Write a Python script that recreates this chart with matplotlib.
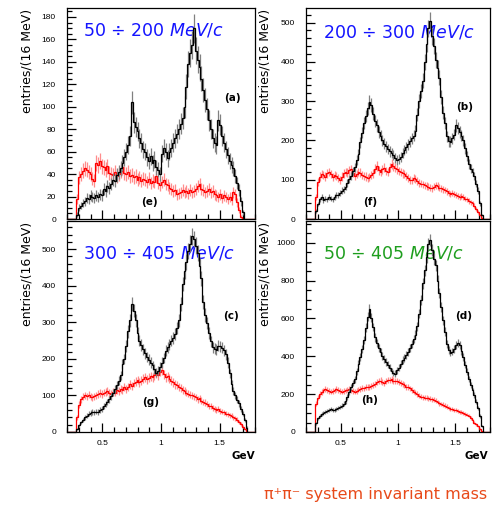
import numpy as np
import matplotlib
matplotlib.use("Agg")
import matplotlib.pyplot as plt
from matplotlib.ticker import MultipleLocator, FormatStrFormatter

plt.rcParams['font.family'] = ['DejaVu Sans']
plt.rcParams['mathtext.fontset'] = 'dejavusans'

# ---- data: pi+pi- invariant mass, 16 MeV bins starting at 0.280 GeV ----
BIN_START = 0.280
BIN_WIDTH = 0.016
XMIN, XMAX = 0.2, 1.8

black_a = [4, 10, 12, 14, 16, 19, 18, 21, 20, 19, 21, 20, 22, 21, 27, 25, 29, 28, 31, 35,
           34, 39, 42, 45, 50, 55, 60, 66, 74, 104, 86, 82, 78, 72, 68, 62, 60, 55, 52, 56,
           50, 53, 46, 44, 40, 58, 63, 60, 54, 60, 63, 68, 72, 76, 80, 85, 90, 100, 118, 138,
           148, 155, 170, 150, 142, 135, 125, 115, 106, 98, 88, 80, 72, 68, 66, 88, 84, 74, 68, 62,
           57, 52, 48, 45, 38, 32, 26, 16, 6, 0, 0, 0]
red_a = [18, 37, 40, 43, 45, 44, 42, 40, 36, 34, 50, 48, 52, 47, 46, 44, 47, 41, 40, 39,
         42, 38, 40, 43, 46, 41, 40, 42, 38, 39, 37, 38, 35, 37, 34, 36, 35, 33, 36, 32,
         34, 33, 38, 32, 30, 33, 35, 31, 30, 28, 27, 25, 26, 22, 23, 24, 26, 24, 25, 23,
         26, 24, 25, 27, 29, 31, 27, 26, 24, 25, 27, 24, 25, 22, 21, 20, 22, 19, 21, 20,
         18, 20, 17, 24, 22, 15, 8, 2, 0, 0, 0, 0]
black_b = [20, 38, 50, 55, 48, 52, 50, 56, 52, 50, 55, 60, 62, 66, 72, 76, 82, 92, 102, 110,
           122, 132, 150, 165, 195, 220, 245, 262, 282, 298, 290, 268, 250, 238, 222, 212, 200, 192, 185, 178,
           172, 168, 162, 156, 150, 152, 158, 168, 175, 182, 190, 198, 205, 212, 225, 265, 300, 325, 352, 400,
           445, 485, 505, 465, 440, 405, 385, 360, 310, 270, 245, 210, 198, 196, 205, 215, 238, 232, 222, 212,
           200, 180, 160, 140, 128, 120, 110, 90, 72, 40, 10, 0]
red_b = [55, 95, 108, 115, 112, 108, 116, 120, 114, 106, 112, 110, 104, 100, 108, 116, 120, 118, 124, 126,
         118, 110, 114, 120, 118, 112, 110, 108, 104, 106, 112, 116, 128, 135, 124, 120, 126, 130, 122, 120,
         132, 140, 134, 130, 126, 122, 120, 116, 114, 110, 104, 100, 98, 104, 102, 96, 92, 90, 88, 86,
         84, 82, 80, 78, 82, 86, 84, 80, 78, 76, 74, 70, 66, 64, 66, 64, 60, 58, 55, 58,
         56, 52, 50, 46, 42, 40, 34, 26, 18, 10, 3, 0]
black_c = [8, 18, 26, 33, 40, 45, 50, 52, 55, 54, 56, 55, 60, 64, 70, 76, 82, 90, 98, 108,
           118, 128, 140, 155, 185, 200, 235, 275, 305, 350, 332, 305, 270, 250, 238, 226, 215, 205, 198, 190,
           182, 172, 162, 168, 178, 190, 202, 222, 232, 240, 250, 258, 268, 285, 305, 350, 405, 440, 465, 495,
           515, 535, 528, 510, 490, 455, 420, 355, 320, 298, 270, 248, 232, 228, 225, 236, 234, 230, 224, 212,
           190, 160, 130, 112, 100, 88, 78, 64, 50, 32, 12, 0]
red_c = [40, 75, 90, 96, 100, 98, 102, 96, 95, 98, 100, 104, 106, 104, 108, 110, 112, 106, 104, 110,
         108, 114, 112, 118, 116, 122, 118, 124, 130, 126, 134, 138, 142, 136, 140, 146, 150, 144, 148, 152,
         150, 156, 160, 155, 165, 170, 158, 150, 152, 146, 140, 136, 130, 128, 122, 120, 116, 112, 108, 105,
         102, 100, 98, 95, 90, 92, 86, 82, 80, 76, 72, 70, 66, 64, 60, 62, 58, 56, 54, 50,
         48, 46, 44, 40, 37, 34, 28, 22, 15, 8, 2, 0]
black_d = [45, 72, 85, 95, 100, 104, 110, 118, 120, 116, 118, 122, 126, 132, 140, 150, 162, 185, 212, 240,
           260, 278, 320, 360, 395, 440, 485, 550, 610, 650, 605, 555, 500, 470, 445, 422, 402, 385, 370, 355,
           340, 322, 312, 308, 325, 340, 360, 380, 392, 408, 422, 445, 465, 490, 515, 560, 625, 700, 785, 855,
           925, 995, 1015, 960, 915, 880, 800, 735, 660, 590, 530, 465, 435, 420, 425, 440, 462, 472, 462, 430,
           395, 355, 318, 280, 250, 220, 195, 160, 125, 85, 30, 0]
red_d = [150, 180, 200, 212, 220, 226, 222, 218, 214, 216, 220, 226, 222, 218, 214, 216, 220, 224, 226, 222,
         218, 214, 218, 224, 228, 232, 230, 236, 240, 238, 244, 246, 256, 262, 268, 272, 264, 260, 270, 274,
         276, 278, 272, 270, 268, 264, 258, 252, 246, 240, 236, 230, 222, 214, 208, 200, 192, 186, 184, 182,
         180, 178, 176, 172, 170, 166, 158, 152, 148, 144, 140, 134, 126, 122, 120, 116, 114, 110, 108, 104,
         100, 96, 92, 86, 74, 62, 50, 40, 30, 16, 4, 0]

titles = ["50 ÷ 200", "200 ÷ 300", "300 ÷ 405", "50 ÷ 405"]
title_colors = ["#1414ff", "#1414ff", "#1414ff", "#1e9e1e"]
black_labels = ["(a)", "(b)", "(c)", "(d)"]
red_labels = ["(e)", "(f)", "(g)", "(h)"]
y_limits = [188, 537, 577, 1115]
y_major = [20, 100, 100, 200]
y_minor = [5, 20, 20, 50]

panels = [
    dict(black=black_a, red=red_a, rect=[67/495, 1-219/509, 188/495, 211/509],
         title_xy=(0.085, 0.891), bl_xy=(0.878, 0.573), rl_xy=(0.44, 0.08), ylab_x=-0.18, xlabels=False),
    dict(black=black_b, red=red_b, rect=[306/495, 1-219/509, 184/495, 211/509],
         title_xy=(0.092, 0.886), bl_xy=(0.864, 0.531), rl_xy=(0.348, 0.08), ylab_x=-0.185, xlabels=False),
    dict(black=black_c, red=red_c, rect=[67/495, 1-432/509, 188/495, 211/509],
         title_xy=(0.085, 0.844), bl_xy=(0.872, 0.55), rl_xy=(0.447, 0.142), ylab_x=-0.18, xlabels=True),
    dict(black=black_d, red=red_d, rect=[306/495, 1-432/509, 184/495, 211/509],
         title_xy=(0.092, 0.848), bl_xy=(0.859, 0.55), rl_xy=(0.348, 0.152), ylab_x=-0.185, xlabels=True),
]

fig = plt.figure(figsize=(4.95, 5.09), dpi=100)

for k, p in enumerate(panels):
    ax = fig.add_axes(p["rect"])
    nb = len(p["black"])
    edges = BIN_START + BIN_WIDTH * np.arange(nb + 1)
    centers = 0.5 * (edges[:-1] + edges[1:])
    full_edges = np.concatenate([[XMIN], edges, [XMAX]])
    blk = np.asarray(p["black"], float)
    red = np.asarray(p["red"], float)

    ax.errorbar(centers, red, yerr=np.sqrt(red), fmt='none', ecolor='#ff8c8c', elinewidth=0.9, zorder=2)
    ax.stairs(np.concatenate([[0], red, [0]]), full_edges, color='#ff0000', lw=0.9, zorder=3)
    ax.errorbar(centers, blk, yerr=np.sqrt(blk), fmt='none', ecolor='#808080', elinewidth=0.9, zorder=4)
    ax.stairs(np.concatenate([[0], blk, [0]]), full_edges, color='black', lw=0.9, zorder=5)

    ax.set_xlim(XMIN, XMAX)
    ax.set_ylim(0, y_limits[k])
    ax.xaxis.set_major_locator(MultipleLocator(0.5))
    ax.xaxis.set_minor_locator(MultipleLocator(0.1))
    ax.yaxis.set_major_locator(MultipleLocator(y_major[k]))
    ax.yaxis.set_minor_locator(MultipleLocator(y_minor[k]))
    ax.xaxis.set_major_formatter(FormatStrFormatter('%g'))
    ax.tick_params(which='both', direction='in', top=False, right=False, width=0.9)
    ax.tick_params(which='major', length=6.5)
    ax.tick_params(which='minor', length=3.5)
    ax.tick_params(axis='y', labelsize=6, pad=8)
    ax.tick_params(axis='x', labelsize=6, pad=6, labelbottom=p["xlabels"])
    for lab in ax.get_xticklabels() + ax.get_yticklabels():
        lab.set_family('Liberation Sans')
    for s in ax.spines.values():
        s.set_linewidth(0.9)

    ax.set_ylabel("entries/(16 MeV)", fontsize=9)
    ax.yaxis.set_label_coords(p["ylab_x"], 0.75)

    ax.text(p["title_xy"][0], p["title_xy"][1], titles[k] + r" $\mathit{MeV/c}$",
            transform=ax.transAxes, color=title_colors[k], fontsize=12.5,
            ha='left', va='center')
    ax.text(p["bl_xy"][0], p["bl_xy"][1], black_labels[k], transform=ax.transAxes,
            fontsize=7.5, fontweight='bold', ha='center', va='center')
    ax.text(p["rl_xy"][0], p["rl_xy"][1], red_labels[k], transform=ax.transAxes,
            fontsize=7.5, fontweight='bold', ha='center', va='center')

fig.text(255/495, 1-456/509, "GeV", fontsize=7.5, fontweight='bold', ha='right', va='center')
fig.text(488/495, 1-456/509, "GeV", fontsize=7.5, fontweight='bold', ha='right', va='center')
fig.text(376/495, 1-494/509, "π⁺π⁻ system invariant mass", fontsize=11.5,
         color='#e84a1a', ha='center', va='center')

fig.savefig("out.png", dpi=100)
